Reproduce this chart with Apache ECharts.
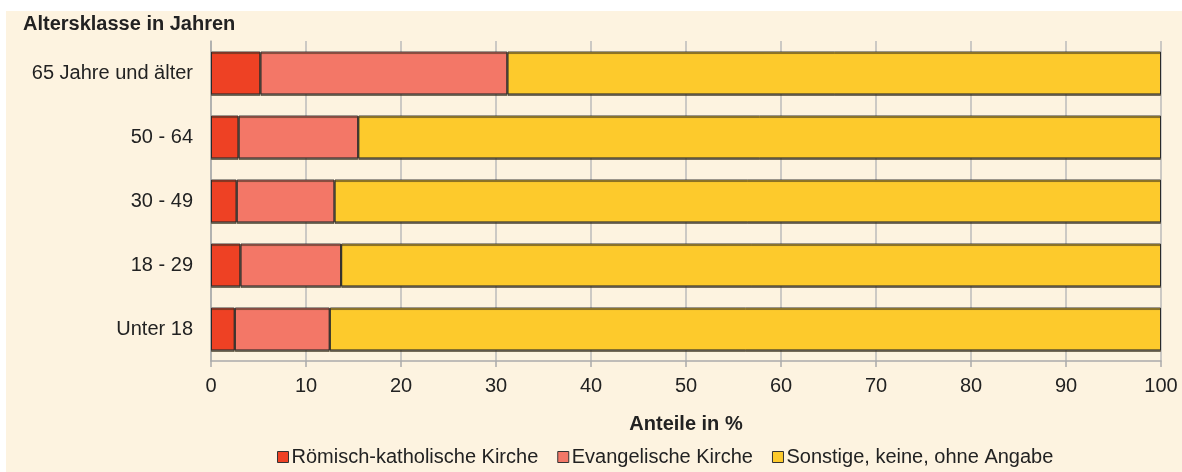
<!DOCTYPE html>
<html>
<head>
<meta charset="utf-8">
<script src="https://cdn.jsdelivr.net/npm/echarts@6/dist/echarts.min.js"></script>
<style>
  html, body { margin: 0; padding: 0; background: #fff; }
  #chart { width: 1182px; height: 472px; }
</style>
</head>
<body>
<div id="chart"></div>
<script>
// Altersklassen (von unten nach oben wie in der Grafik)
var klassen = ['Unter 18', '18 - 29', '30 - 49', '50 - 64', '65 Jahre und älter'];
var katholisch = [2.5, 3.1, 2.7, 2.9, 5.2];
var evangelisch = [10.0, 10.6, 10.3, 12.6, 26.0];
var sonstige = [87.5, 86.3, 87.0, 84.5, 68.8];
var serienNamen = ['Römisch-katholische Kirche', 'Evangelische Kirche', 'Sonstige, keine, ohne Angabe'];
var farben = ['#ee4124', '#f37767', '#fdca2c'];

var font = 'Liberation Sans, Arial, sans-serif';
var chart = echarts.init(document.getElementById('chart'));

var serien = [katholisch, evangelisch, sonstige].map(function (werte, i) {
  return {
    name: serienNamen[i],
    type: 'bar',
    stack: 'gesamt',
    barCategoryGap: '33%',
    data: werte,
    itemStyle: {
      color: farben[i],
      borderColor: '#2a2a2a',
      borderWidth: 1,
      shadowColor: 'rgba(60,50,30,0.6)',
      shadowOffsetY: 1.5
    },
    emphasis: { disabled: true }
  };
});

chart.setOption({
  animation: false,
  backgroundColor: '#ffffff',
  textStyle: { fontFamily: font },
  graphic: [{
    type: 'rect',
    z: -10,
    shape: { x: 6, y: 11, width: 1176, height: 461 },
    style: { fill: '#fdf3e0' }
  }, {
    type: 'text',
    left: 23,
    top: 14,
    style: { text: 'Altersklasse in Jahren', font: 'bold 20px ' + font, fill: '#222' }
  }],
  grid: { left: 211, right: 21, top: 41, bottom: 111 },
  legend: {
    left: 272,
    top: 442,
    itemWidth: 11,
    itemHeight: 11,
    itemGap: 19,
    icon: 'rect',
    textStyle: { fontSize: 20, color: '#222', fontFamily: font, padding: [0, 0, 0, -2] },
    data: serienNamen.map(function (n, i) {
      return { name: n, itemStyle: { color: farben[i], borderColor: '#333', borderWidth: 1 } };
    })
  },
  xAxis: {
    type: 'value',
    min: 0,
    max: 100,
    interval: 10,
    name: 'Anteile in %',
    nameLocation: 'middle',
    nameGap: 53,
    nameTextStyle: { fontSize: 20, fontWeight: 'bold', color: '#222' },
    axisLine: { show: true, lineStyle: { color: '#aaa', width: 1.5 } },
    axisTick: { show: true, length: 6, lineStyle: { color: '#aaa', width: 1.5 } },
    axisLabel: { fontSize: 20, color: '#222', margin: 15 },
    splitLine: { show: true, lineStyle: { color: '#bbb', width: 1.5 } }
  },
  yAxis: {
    type: 'category',
    data: klassen,
    axisLine: { show: true, lineStyle: { color: '#aaa', width: 1.5 } },
    axisTick: { show: false },
    axisLabel: { fontSize: 20, color: '#222', margin: 18 }
  },
  series: serien
});
</script>
</body>
</html>
